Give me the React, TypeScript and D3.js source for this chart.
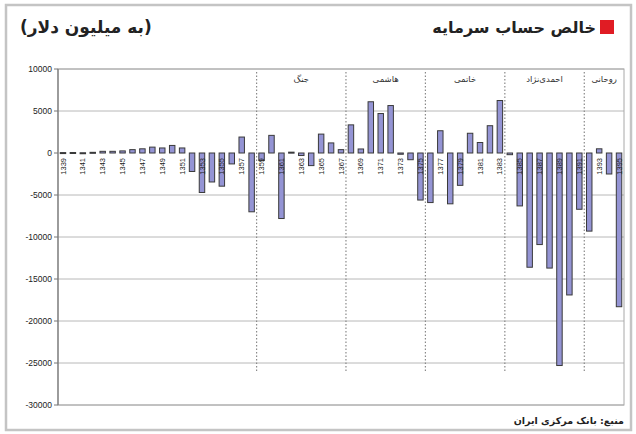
import React from 'react';
import * as d3 from 'd3';

// سال‌ها (هجری شمسی) و خالص حساب سرمایه به میلیون دلار
const years = [
  '1339', '1340', '1341', '1342', '1343', '1344', '1345', '1346', '1347', '1348',
  '1349', '1350', '1351', '1352', '1353', '1354', '1355', '1356', '1357', '1358',
  '1359', '1360', '1361', '1362', '1363', '1364', '1365', '1366', '1367', '1368',
  '1369', '1370', '1371', '1372', '1373', '1374', '1375', '1376', '1377', '1378',
  '1379', '1380', '1381', '1382', '1383', '1384', '1385', '1386', '1387', '1388',
  '1389', '1390', '1391', '1392', '1393', '1394', '1395',
];

const values = [
  50, 60, 30, 80, 200, 200, 250, 400, 500, 700,
  600, 900, 600, -2200, -4700, -3450, -3950, -1300, 1900, -7000,
  -900, 2100, -7800, 100, -300, -1500, 2250, 1200, 400, 3350,
  480, 6100, 4700, 5650, -150, -800, -5600, -5900, 2650, -6050,
  -3850, 2350, 1250, 3250, 6250, -200, -6300, -13600, -10900, -13700,
  -25300, -16900, -6700, -9300, 500, -2500, -18300,
];

// first year of each period, and its label
const periodStarts = ['1359', '1368', '1376', '1384', '1392'];
const periodNames = ['جنگ', 'هاشمی', 'خاتمی', 'احمدی\u200cنژاد', 'روحانی'];

const yTicks = [10000, 5000, 0, -5000, -10000, -15000, -20000, -25000, -30000];

const W = 636;
const H = 434;
const plot = { left: 58, right: 624, top: 69, bottom: 405 };

export default function App() {
  const x = d3.scaleBand<string>()
    .domain(years)
    .range([plot.left, plot.right])
    .paddingInner(0.45)
    .paddingOuter(0.225);

  const y = d3.scaleLinear()
    .domain([-30000, 10000])
    .range([plot.bottom, plot.top]);

  const bw = x.bandwidth();
  const step = x.step();
  const zeroY = y(0);

  const dividerX = periodStarts.map(yr => (x(yr) as number) - (step - bw) / 2);
  const regionEdges = [...dividerX, plot.right];

  const labelYears = years.filter((_, i) => i % 2 === 0);

  return (
    <div style={{ position: 'fixed', left: 0, top: 0 }}>
      <svg width={W} height={H} style={{ display: 'block', background: '#fff' }}>
        {/* outer frame */}
        <rect x={6} y={5} width={625} height={425} fill="none" stroke="#c4c4c4" strokeWidth={2.5} />

        {/* title */}
        <rect x={600} y={20} width={14} height={14} fill="#e01c24" />
        <text x={596} y={33} direction="rtl" textAnchor="start"
          fontFamily="DejaVu Sans" fontWeight="bold" fontSize={16} fill="#222">
          خالص حساب سرمایه
        </text>
        <text x={20} y={33} direction="rtl" textAnchor="end"
          fontFamily="DejaVu Sans" fontWeight="bold" fontSize={17} fill="#222">
          (به میلیون دلار)
        </text>

        {/* gridlines */}
        {yTicks.filter(t => t !== 0).map(t => (
          <line key={t} x1={plot.left} x2={plot.right} y1={y(t)} y2={y(t)}
            stroke="#b8b8b8" strokeWidth={1} />
        ))}

        {/* plot border */}
        <rect x={plot.left} y={plot.top} width={plot.right - plot.left} height={plot.bottom - plot.top}
          fill="none" stroke="#a8a8a8" strokeWidth={1} />
        <line x1={plot.left} x2={plot.left} y1={plot.top} y2={plot.bottom} stroke="#777" strokeWidth={1.2} />

        {/* y ticks and labels */}
        {yTicks.map(t => (
          <g key={t}>
            <line x1={plot.left - 4} x2={plot.left} y1={y(t)} y2={y(t)} stroke="#777" />
            <text x={plot.left - 6} y={y(t)} dy="0.35em" textAnchor="end"
              fontFamily="Liberation Sans" fontSize={8.5} fill="#222">
              {t}
            </text>
          </g>
        ))}

        {/* period dividers */}
        {dividerX.map((dx, i) => (
          <line key={i} x1={dx} x2={dx} y1={plot.top + 3} y2={372}
            stroke="#8a8a8a" strokeWidth={1.2} strokeDasharray="1.5,2" />
        ))}
        {periodNames.map((name, i) => (
          <text key={name} x={(regionEdges[i] + regionEdges[i + 1]) / 2} y={82}
            textAnchor="middle" fontFamily="DejaVu Sans" fontSize={8.5} fill="#333">
            {name}
          </text>
        ))}

        {/* bars */}
        {values.map((v, i) => (
          <rect key={years[i]}
            x={x(years[i])}
            y={Math.min(y(v), zeroY)}
            width={bw}
            height={Math.max(Math.abs(y(v) - zeroY), 1)}
            fill="#9494d4" stroke="#3a3a3a" strokeWidth={1} />
        ))}

        {/* category labels */}
        {labelYears.map(yr => {
          const cx = (x(yr) as number) + bw / 2;
          return (
            <text key={yr} transform={`translate(${cx + 2.6},${zeroY + 5}) rotate(-90)`}
              textAnchor="end" fontFamily="Liberation Sans" fontSize={7.5} fill="#222">
              {yr}
            </text>
          );
        })}

        {/* source */}
        <text x={624} y={424} direction="rtl" textAnchor="start"
          fontFamily="DejaVu Sans" fontWeight="bold" fontSize={9.5} fill="#222">
          منبع: بانک مرکزی ایران
        </text>
      </svg>
    </div>
  );
}
